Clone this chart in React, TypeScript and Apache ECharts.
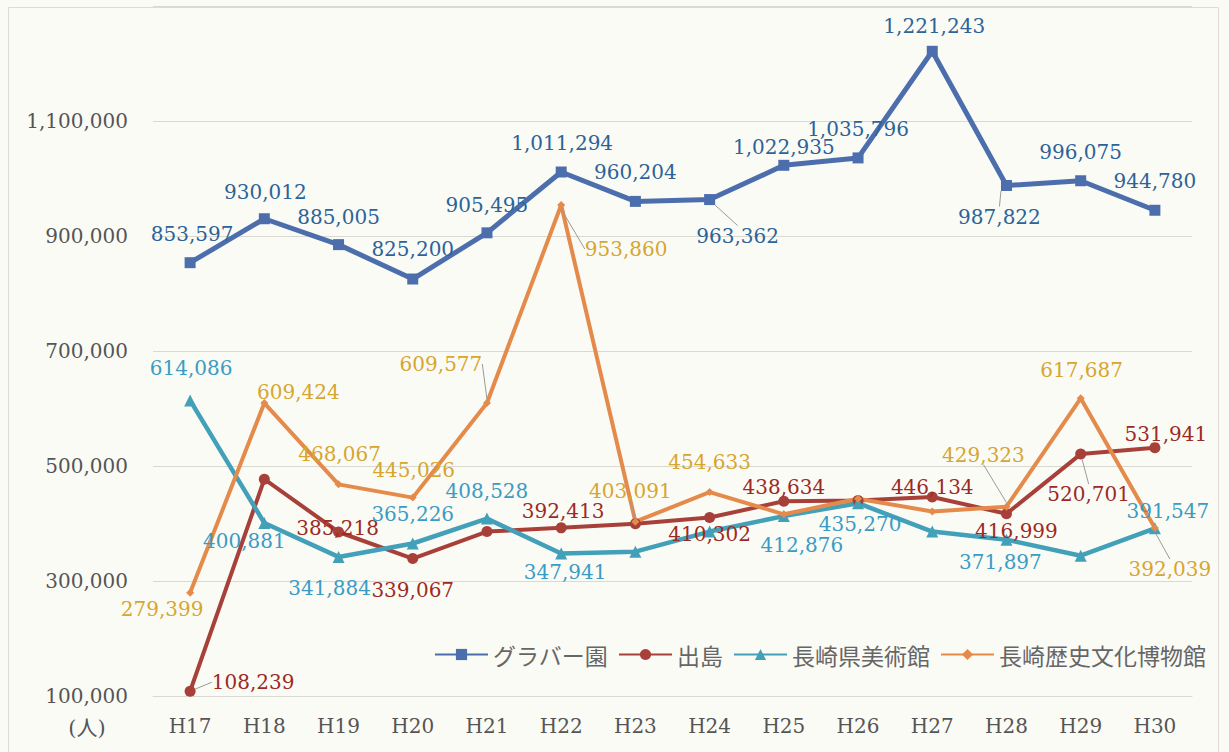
import React, { useEffect, useRef } from 'react';
import * as echarts from 'echarts';

const categories = ['H17', 'H18', 'H19', 'H20', 'H21', 'H22', 'H23', 'H24', 'H25', 'H26', 'H27', 'H28', 'H29', 'H30'];
const seriesNames = ['グラバー園', '出島', '長崎県美術館', '長崎歴史文化博物館'];
const gloverValues = [853597, 930012, 885005, 825200, 905495, 1011294, 960204, 963362, 1022935, 1035796, 1221243, 987822, 996075, 944780];
const dejimaValues = [108239, 477000, 385218, 339067, 386000, 392413, 399500, 410302, 438634, 440000, 446134, 416999, 520701, 531941];
const museumValues = [614086, 400881, 341884, 365226, 408528, 347941, 351000, 386000, 412876, 435270, 386000, 371897, 344000, 391547];
const historyValues = [279399, 609424, 468067, 445026, 609577, 953860, 403091, 454633, 416000, 443000, 421000, 429323, 617687, 392039];
const yMin = 100000;
const yMax = 1300000;
const yInterval = 200000;

type Off = [number, number] | null;
// label offsets (label centre relative to the point), null = no label
const gloverOffsets: Off[] = [[2, -29], [1, -27], [0, -28], [0, -30], [0, -28], [1, -29], [0, -29], [28, 36], [0, -18], [0, -29], [2, -25], [-7, 31], [0, -29], [0, -29]];
const dejimaOffsets: Off[] = [[63, -9], null, [-1, -4], [0, 31], null, [2, -17], null, [0, 16], [0, -14], null, [0, -10], [10, 17], [8, 40], [11, -14]];
const museumOffsets: Off[] = [[1, -32], [-20, 18], [-9, 31], [0, -29], [0, -28], [4, 19], null, null, [18, 29], [2, 21], null, [-6, 22], null, [13, -17]];
const historyOffsets: Off[] = [[-28, 16], [34, -11], [1, -30], [1, -28], [-46, -39], [65, 44], [-5, -31], [0, -30], null, null, null, [-23, -52], [1, -28], [15, 41]];
const gloverLeaders = [7, 11];
const dejimaLeaders = [0, 12];
const museumLeaders: number[] = [];
const historyLeaders = [4, 5, 6, 11, 13];

const NUM_FONT = "'DejaVu Serif', 'Liberation Serif', serif";
const CJK_FONT = "'Noto Sans CJK JP', 'Noto Sans CJK SC', sans-serif";

function makeSeries(
  name: string,
  values: number[],
  offsets: Off[],
  leaders: number[],
  lineColor: string,
  labelColor: string,
  width: number,
  symbol: string,
  symbolSize: number
) {
  return {
    name,
    type: 'line',
    data: values.map((v, i) => ({
      value: v,
      label: { show: offsets[i] != null },
      labelLine: { show: leaders.indexOf(i) >= 0 },
    })),
    symbol,
    symbolSize,
    showAllSymbol: true,
    lineStyle: { color: lineColor, width },
    itemStyle: { color: lineColor },
    label: {
      show: true,
      position: 'inside',
      color: labelColor,
      fontFamily: NUM_FONT,
      fontSize: 20,
      formatter: (p: any) => Number(p.value).toLocaleString('en-US'),
    },
    labelLine: {
      show: false,
      lineStyle: { color: '#9a9a9a', width: 1 },
    },
    labelLayout: (p: any) => {
      const o = offsets[p.dataIndex];
      return o ? { dx: o[0], dy: o[1] } : {};
    },
    emphasis: { disabled: true },
  };
}

export default function App() {
  const ref = useRef<HTMLDivElement>(null);
  useEffect(() => {
    if (!ref.current) return;
    const chart = echarts.init(ref.current, undefined, { renderer: 'svg' });
    chart.setOption({
      animation: false,
      backgroundColor: '#fbfbf6',
      grid: { left: 153, right: 37, top: 6, bottom: 56 },
      legend: {
        data: seriesNames,
        left: 434,
        top: 643,
        padding: 0,
        itemWidth: 53,
        itemHeight: 14,
        itemGap: 10,
        textStyle: { fontFamily: CJK_FONT, fontSize: 23, color: '#666' },
      },
      xAxis: {
        type: 'category',
        data: categories,
        boundaryGap: true,
        axisLine: { lineStyle: { color: '#d9d9d2', width: 1 } },
        axisTick: { show: false },
        axisLabel: { fontFamily: NUM_FONT, fontSize: 20, color: '#555', margin: 20 },
      },
      yAxis: {
        type: 'value',
        min: yMin,
        max: yMax,
        interval: yInterval,
        axisLine: { show: false },
        axisTick: { show: false },
        splitLine: { lineStyle: { color: '#d9d9d2', width: 1 } },
        axisLabel: {
          fontFamily: NUM_FONT,
          fontSize: 20,
          color: '#555',
          margin: 25,
          formatter: (v: number) => (v === yMax ? '' : v.toLocaleString('en-US')),
        },
      },
      graphic: [
        {
          type: 'rect',
          shape: { x: 8.5, y: 7.5, width: 1210, height: 760 },
          style: { fill: 'none', stroke: '#dcdcd4', lineWidth: 1 },
          silent: true,
          z: -1,
        },
        {
          type: 'text',
          x: 87,
          y: 728,
          style: {
            text: '(人)',
            fontFamily: "'DejaVu Serif', 'Noto Sans CJK JP', serif",
            fontSize: 21,
            fill: '#555',
            align: 'center',
            verticalAlign: 'middle',
          },
        },
      ],
      series: [
        makeSeries(seriesNames[0], gloverValues, gloverOffsets, gloverLeaders, '#4d6ead', '#2c6398', 5, 'rect', 11),
        makeSeries(seriesNames[1], dejimaValues, dejimaOffsets, dejimaLeaders, '#a8403a', '#9c2a24', 4, 'circle', 11),
        makeSeries(seriesNames[2], museumValues, museumOffsets, museumLeaders, '#42a0b9', '#3a9cc4', 4.5, 'triangle', 12),
        makeSeries(seriesNames[3], historyValues, historyOffsets, historyLeaders, '#e48b4c', '#d6a630', 4, 'diamond', 8),
      ],
    });
    return () => chart.dispose();
  }, []);
  return <div ref={ref} style={{ position: 'fixed', left: 0, top: 0, width: 1229, height: 752 }} />;
}
